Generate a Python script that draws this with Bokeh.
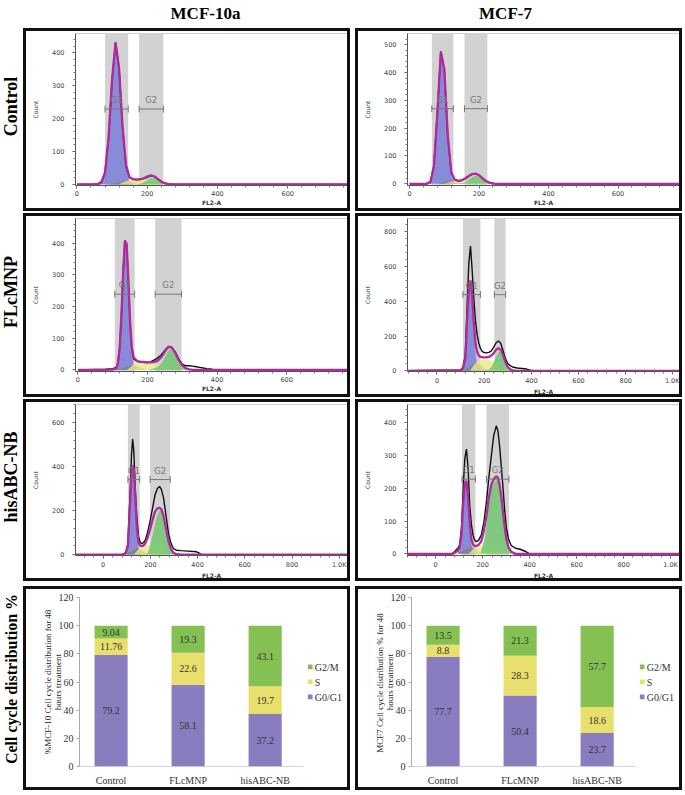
import math
from bokeh.plotting import figure
from bokeh.layouts import row, column
from bokeh.models import (FixedTicker, Legend, LegendItem, ColumnDataSource, LinearAxis,
                          Range1d, Spacer, BoxAnnotation)
from bokeh.core.properties import value
from bokeh.embed import file_html
from bokeh.resources import INLINE

# ---------------- histogram data (FL2-A vs Count) ----------------
# MCF-10a Control
A_x = [0, 40, 50, 60, 70, 80, 90, 100, 110, 120, 130, 140, 150, 160, 170, 180, 190, 200, 210, 220, 230, 240, 250, 260, 270, 280, 770]
A_black = [0, 0, 1, 3, 9, 38, 140, 315, 430, 352, 172, 52, 20, 16, 15, 16, 18, 22, 26, 24, 16, 8, 4, 2, 1, 0, 0]
A_fit = [0, 0, 0, 1, 6, 36, 140, 318, 432, 352, 172, 58, 22, 16, 15, 16, 19, 24, 28, 25, 17, 9, 4, 1, 0, 0, 0]
A_g1_x = [60, 70, 80, 90, 100, 110, 120, 130, 140, 150, 160]
A_g1_y = [1, 6, 36, 140, 316, 426, 346, 166, 48, 9, 0]
A_deb_x = [90, 110, 130, 140, 150, 170, 190]
A_deb_y = [0, 4, 10, 13, 10, 3, 0]
A_s_x = [120, 130, 140, 150, 170, 190, 210, 230, 240, 250]
A_s_y = [0, 6, 11, 13, 14, 14, 13, 9, 5, 0]
A_g2_x = [170, 180, 190, 200, 210, 220, 230, 240, 250, 260]
A_g2_y = [0, 2, 6, 13, 20, 19, 12, 5, 2, 0]
A_gates = [(80, 146), (177, 246)]

# MCF-7 Control
B_x = [0, 40, 50, 60, 70, 80, 90, 100, 110, 120, 130, 140, 150, 160, 170, 180, 190, 200, 210, 220, 230, 240, 250, 260, 777]
B_black = [0, 0, 1, 8, 66, 259, 476, 410, 170, 40, 14, 10, 12, 18, 27, 34, 36, 30, 19, 9, 4, 2, 0, 0, 0]
B_fit = [0, 0, 0, 6, 62, 255, 474, 412, 172, 42, 15, 11, 13, 19, 28, 35, 37, 31, 20, 10, 4, 1, 0, 0, 0]
B_g1_x = [50, 60, 70, 80, 90, 100, 110, 120, 130, 140]
B_g1_y = [0, 6, 62, 254, 470, 404, 162, 30, 3, 0]
B_deb_x = [80, 100, 115, 125, 140, 160]
B_deb_y = [0, 5, 14, 10, 4, 0]
B_s_x = [100, 110, 120, 140, 160, 180, 200, 215, 225]
B_s_y = [0, 4, 8, 9, 10, 9, 7, 3, 0]
B_g2_x = [140, 150, 160, 170, 180, 190, 200, 210, 220, 230, 240]
B_g2_y = [0, 2, 6, 15, 24, 29, 25, 15, 6, 2, 0]
B_gates = [(64, 126), (158, 224)]

# MCF-10a FLcMNP
C_x = [0, 80, 100, 110, 115, 120, 125, 130, 135, 140, 145, 150, 155, 160, 170, 180, 190, 200, 210, 220, 230, 240, 250, 260, 270, 280, 290, 300, 310, 320, 330, 340, 350, 360, 370, 380, 390, 400, 775]
C_black = [0, 2, 4, 8, 22, 70, 172, 309, 408, 395, 282, 147, 65, 35, 27, 25, 24, 23, 26, 32, 38, 48, 62, 74, 72, 56, 34, 18, 13, 13, 12, 10, 8, 6, 4, 3, 1, 0, 0]
C_fit = [0, 0, 1, 5, 21, 70, 172, 309, 408, 398, 285, 150, 70, 40, 28, 26, 25, 24, 24, 25, 30, 40, 58, 73, 70, 52, 30, 14, 5, 2, 0, 0, 0, 0, 0, 0, 0, 0, 0]
C_g1_x = [100, 110, 115, 120, 125, 130, 135, 140, 145, 150, 155, 160, 170]
C_g1_y = [0, 5, 21, 70, 172, 305, 404, 392, 280, 145, 57, 16, 0]
C_deb_x = [100, 130, 160, 175, 200]
C_deb_y = [0, 6, 16, 10, 0]
C_s_x = [140, 150, 160, 170, 180, 190, 200, 210, 220, 230, 240, 250, 260, 280, 300]
C_s_y = [0, 8, 18, 24, 25, 25, 24, 22, 20, 17, 14, 11, 8, 3, 0]
C_g2_x = [200, 210, 220, 230, 240, 250, 260, 265, 270, 280, 290, 300, 310, 320, 330]
C_g2_y = [0, 2, 5, 10, 20, 40, 62, 66, 62, 42, 22, 9, 3, 1, 0]
C_gates = [(106, 163), (222, 298)]

# MCF-7 FLcMNP
D_x = [-125, 100, 110, 120, 128, 135, 142, 149, 156, 163, 170, 177, 184, 191, 200, 210, 220, 230, 240, 250, 260, 270, 280, 290, 300, 310, 320, 340, 360, 380, 395, 410, 1028]
D_black = [0, 5, 20, 90, 390, 620, 717, 580, 420, 290, 210, 160, 130, 112, 105, 103, 106, 115, 135, 160, 172, 158, 115, 70, 42, 30, 22, 16, 13, 10, 4, 0, 0]
D_fit = [0, 2, 12, 70, 300, 470, 520, 440, 280, 160, 110, 88, 80, 78, 77, 78, 80, 88, 100, 120, 130, 122, 90, 50, 22, 8, 3, 0, 0, 0, 0, 0, 0]
D_g1_x = [100, 110, 120, 128, 135, 142, 149, 156, 163, 170, 180]
D_g1_y = [2, 12, 68, 290, 455, 505, 420, 250, 110, 35, 0]
D_deb_x = [110, 140, 165, 185, 215]
D_deb_y = [0, 25, 50, 30, 0]
D_s_x = [140, 160, 180, 200, 220, 240, 260, 280, 300, 320]
D_s_y = [0, 40, 62, 65, 63, 52, 28, 12, 3, 0]
D_g2_x = [200, 220, 230, 240, 250, 260, 265, 270, 280, 290, 300, 310]
D_g2_y = [0, 8, 20, 45, 80, 105, 112, 108, 80, 45, 18, 0]
D_gates = [(110, 184), (243, 291)]

# MCF-10a hisABC-NB
E_x = [-117, 80, 95, 105, 115, 120, 125, 130, 136, 143, 150, 157, 164, 171, 178, 188, 199, 210, 220, 230, 239, 247, 256, 266, 277, 288, 298, 310, 330, 360, 396, 405, 417, 1035]
E_black = [0, 0, 8, 50, 300, 450, 525, 470, 302, 170, 82, 55, 50, 55, 64, 100, 153, 215, 272, 300, 310, 295, 257, 180, 94, 50, 27, 20, 18, 16, 13, 8, 0, 0]
E_fit = [0, 0, 5, 40, 250, 360, 405, 390, 260, 120, 55, 40, 38, 42, 50, 75, 115, 160, 195, 210, 213, 205, 175, 120, 60, 25, 8, 2, 0, 0, 0, 0, 0, 0]
E_g1_x = [95, 105, 115, 120, 125, 130, 136, 143, 150, 160]
E_g1_y = [3, 35, 240, 350, 400, 385, 250, 100, 25, 0]
E_deb_x = [90, 120, 145, 165, 190]
E_deb_y = [0, 15, 32, 20, 0]
E_s_x = [130, 150, 170, 190, 210, 230, 250, 270, 290]
E_s_y = [0, 25, 38, 45, 45, 38, 25, 10, 0]
E_g2_x = [180, 190, 199, 210, 220, 230, 239, 247, 256, 266, 277, 288, 298, 310]
E_g2_y = [0, 10, 40, 90, 140, 180, 200, 205, 185, 130, 65, 25, 8, 0]
E_gates = [(105, 155), (199, 284)]

# MCF-7 hisABC-NB
F_x = [-120, 70, 81, 95, 102, 110, 117, 124, 131, 138, 145, 152, 159, 166, 173, 183, 194, 205, 216, 226, 237, 247, 258, 265, 272, 280, 287, 294, 301, 310, 322, 340, 360, 380, 400, 1038]
F_black = [0, 0, 7, 18, 27, 80, 198, 290, 319, 260, 147, 90, 57, 42, 37, 42, 57, 95, 158, 230, 299, 360, 390, 375, 329, 260, 198, 130, 78, 45, 25, 17, 14, 8, 0, 0]
F_fit = [0, 0, 3, 10, 18, 60, 150, 215, 222, 170, 90, 45, 28, 24, 24, 28, 38, 70, 115, 170, 210, 228, 236, 232, 210, 170, 125, 80, 45, 20, 6, 0, 0, 0, 0, 0]
F_g1_x = [95, 102, 110, 117, 124, 131, 138, 145, 152, 160]
F_g1_y = [5, 15, 55, 145, 210, 218, 165, 85, 30, 0]
F_deb_x = [90, 120, 150, 170, 195]
F_deb_y = [0, 12, 22, 15, 0]
F_s_x = [140, 160, 180, 200, 220, 240, 260, 280, 300, 320]
F_s_y = [0, 15, 22, 27, 30, 28, 22, 14, 5, 0]
F_g2_x = [190, 205, 216, 226, 237, 247, 258, 265, 272, 280, 287, 294, 301, 310, 322]
F_g2_y = [0, 40, 95, 150, 195, 215, 225, 222, 200, 160, 115, 75, 40, 15, 0]
F_gates = [(112, 169), (216, 312)]

gate_names = ["G1", "G2"]

# ---------------- bar chart data ----------------
categories = ["Control", "FLcMNP", "hisABC-NB"]
mcf10_g0g1 = [79.2, 58.1, 37.2]
mcf10_s = [11.76, 22.6, 19.7]
mcf10_g2m = [9.04, 19.3, 43.1]
mcf7_g0g1 = [77.7, 50.4, 23.7]
mcf7_s = [8.8, 28.3, 18.6]
mcf7_g2m = [13.5, 21.3, 57.7]
bar_ticks = [0, 20, 40, 60, 80, 100, 120]

row_labels = ["Control", "FLcMNP", "hisABC-NB", "Cell cycle distribution %"]
col_titles = ["MCF-10a", "MCF-7"]
mcf10_ylabel = ["%MCF-10 Cell cycle distribution for 48", "hours treatment"]
mcf7_ylabel = ["MCF7 Cell cycle distribution  % for 48", "hours treatment"]

# ---------------- styling ----------------
SERIF = "Liberation Serif"
SANS = "DejaVu Sans"
BORDER = {"border": "3px solid #111"}
C_BLUE, C_GRAY, C_YEL, C_GRN = "#7b7fd6", "#808080", "#e8e88a", "#6cc66c"
C_MAG, C_BLK, C_GATE = "#b02a9c", "#111111", "#d2d2d2"
BAR_PURPLE, BAR_YEL, BAR_GRN = "#8a7dbf", "#e9df6d", "#84c152"

PW = 327  # outer panel width (border drawn inside)


def hist_panel(x, black, fit, g1, deb, s, g2, gates, xr, yr, xticks, xstep_minor,
               ystep, ystep_minor, h):
    p = figure(width=PW, height=h, x_range=Range1d(*xr), y_range=Range1d(*yr),
               output_backend="svg", toolbar_location=None,
               min_border_left=49, min_border_right=6, min_border_top=2,
               min_border_bottom=29)
    p.styles = BORDER
    p.grid.visible = False
    p.outline_line_color = "#cfcfcf"
    for lo, hi in gates:
        p.add_layout(BoxAnnotation(left=lo, right=hi, fill_color=C_GATE, fill_alpha=1.0,
                                   line_color=None, level="underlay"))
    p.varea(x=g1[0], y1=0, y2=g1[1], fill_color=C_BLUE, fill_alpha=0.85)
    p.varea(x=deb[0], y1=0, y2=deb[1], fill_color=C_GRAY, fill_alpha=0.8)
    p.varea(x=s[0], y1=0, y2=s[1], fill_color=C_YEL, fill_alpha=0.8)
    p.varea(x=g2[0], y1=0, y2=g2[1], fill_color=C_GRN, fill_alpha=0.8)
    p.line(x, black, line_color=C_BLK, line_width=1.4)
    p.line(x, fit, line_color=C_MAG, line_width=2.3)
    by = yr[1] * 0.5
    for (lo, hi), name in zip(gates, gate_names):
        p.segment(x0=[lo], y0=[by], x1=[hi], y1=[by], line_color="#777", line_width=1)
        p.scatter(x=[lo, hi], y=[by, by], marker="dash", angle=math.pi / 2, size=7,
                  line_color="#777", line_width=1)
        p.text(x=[(lo + hi) / 2], y=[by], text=[name], text_align="center",
               text_baseline="bottom", y_offset=-4, text_color="#777",
               text_font=value(SANS), text_font_size="8.5px")
    ymax_tick = int(yr[1] // ystep) * ystep
    p.yaxis.ticker = FixedTicker(ticks=list(range(0, ymax_tick + 1, ystep)),
                                 minor_ticks=list(range(0, int(yr[1]), ystep_minor)))
    p.xaxis.ticker = FixedTicker(ticks=xticks,
                                 minor_ticks=list(range(int(xr[0] // xstep_minor) * xstep_minor,
                                                        int(xr[1]), xstep_minor)))
    p.xaxis.major_label_overrides = {1000: "1.0K"}
    for ax in (p.xaxis[0], p.yaxis[0]):
        ax.axis_line_color = "#555"
        ax.major_tick_line_color = "#555"
        ax.minor_tick_line_color = "#777"
        ax.major_tick_in = 0
        ax.major_tick_out = 3
        ax.minor_tick_in = 0
        ax.minor_tick_out = 2
        ax.major_label_text_font = SANS
        ax.major_label_text_font_size = "6.5px"
        ax.major_label_text_color = "#444"
        ax.axis_label_text_font = SANS
        ax.axis_label_text_font_style = "bold"
        ax.axis_label_text_color = "#333"
    p.xaxis.major_label_standoff = 2
    p.xaxis.axis_label_standoff = 0
    p.yaxis.major_label_standoff = 8
    p.yaxis.axis_label_standoff = 10
    p.xaxis.axis_label = "FL2-A"
    p.xaxis.axis_label_text_font_size = "6px"
    p.yaxis.axis_label = "Count"
    p.yaxis.axis_label_text_font_size = "6px"
    p.yaxis.axis_label_text_font_style = "normal"
    return p


def bar_panel(g0, s, g2, ylabel, h):
    pos = list(range(len(categories)))
    src = ColumnDataSource(dict(pos=pos, g0=g0, s=s, g2=g2,
                                m0=[v / 2 for v in g0],
                                m1=[a + b / 2 for a, b in zip(g0, s)],
                                m2=[a + b + c / 2 for a, b, c in zip(g0, s, g2)],
                                t0=[str(v) for v in g0], t1=[str(v) for v in s],
                                t2=[str(v) for v in g2]))
    p = figure(width=PW, height=h, x_range=Range1d(-0.41, 3.03),
               y_range=Range1d(0, 120), output_backend="svg", toolbar_location=None,
               min_border_left=53, min_border_right=9, min_border_top=8,
               min_border_bottom=27)
    p.styles = BORDER
    p.grid.visible = False
    p.outline_line_color = None
    rs = p.vbar_stack(["g0", "s", "g2"], x="pos", width=0.43, source=src,
                      color=[BAR_PURPLE, BAR_YEL, BAR_GRN], line_color=None)
    for m, t in (("m0", "t0"), ("m1", "t1"), ("m2", "t2")):
        p.text(x="pos", y=m, text=t, source=src, text_align="center",
               text_baseline="middle", text_font=value(SERIF), text_font_size="10px",
               text_color="#333")
    # baseline under the category area
    p.segment(x0=[-0.41], x1=[len(categories) - 0.5], y0=[0], y1=[0],
              line_color="#aaa", line_width=1)
    leg = Legend(items=[LegendItem(label="G2/M", renderers=[rs[2]]),
                        LegendItem(label="S", renderers=[rs[1]]),
                        LegendItem(label="G0/G1", renderers=[rs[0]])],
                 location="center_right", border_line_color=None, background_fill_alpha=0,
                 glyph_width=6, glyph_height=6, label_standoff=2, spacing=4,
                 padding=2, margin=2, label_text_font=SERIF, label_text_font_size="10px",
                 label_text_color="#333")
    p.add_layout(leg)
    p.yaxis.ticker = FixedTicker(ticks=bar_ticks)
    p.yaxis.minor_tick_line_color = None
    p.yaxis.major_tick_in = 0
    p.yaxis.major_tick_out = 3
    p.yaxis.major_tick_line_color = "#aaa"
    p.yaxis.axis_line_color = "#aaa"
    p.yaxis.major_label_standoff = 3
    p.xaxis.ticker = FixedTicker(ticks=pos)
    p.xaxis.major_label_overrides = {i: c for i, c in zip(pos, categories)}
    p.xaxis.major_tick_line_color = None
    p.xaxis.minor_tick_line_color = None
    p.xaxis.axis_line_color = None
    for ax in (p.xaxis[0], p.yaxis[0]):
        ax.major_label_text_font = SERIF
        ax.major_label_text_font_size = "10px"
        ax.major_label_text_color = "#333"
    p.yaxis.axis_label = ylabel[1]
    p.yaxis.axis_label_text_font = SERIF
    p.yaxis.axis_label_text_font_size = "9px"
    p.yaxis.axis_label_text_font_style = "normal"
    p.yaxis.axis_label_text_color = "#222"
    p.yaxis.axis_label_standoff = -7
    # first line of the two-line y label, as an outer label-only axis
    outer = LinearAxis(axis_label=ylabel[0], ticker=FixedTicker(ticks=[]),
                       axis_line_color=None, major_tick_line_color=None,
                       minor_tick_line_color=None, axis_label_standoff=-3,
                       axis_label_text_font=SERIF, axis_label_text_font_size="9px",
                       axis_label_text_font_style="normal", axis_label_text_color="#222")
    p.add_layout(outer, "left")
    p.xaxis.major_label_standoff = 2
    return p


def label_fig(txt, h, size="18px", w=21):
    p = figure(width=w, height=h, x_range=Range1d(0, 1), y_range=Range1d(0, 1),
               output_backend="svg", toolbar_location=None, min_border=0)
    p.axis.visible = False
    p.grid.visible = False
    p.outline_line_color = None
    p.text(x=[0.5], y=[0.5], text=[txt], angle=math.pi / 2, text_align="center",
           text_baseline="middle", text_font=value(SERIF), text_font_style="bold",
           text_font_size=size, text_color="#000")
    return p


H1, H2, H3, H4 = 183, 184, 182, 204

pA = hist_panel(A_x, A_black, A_fit, (A_g1_x, A_g1_y), (A_deb_x, A_deb_y), (A_s_x, A_s_y),
                (A_g2_x, A_g2_y), A_gates, (-4, 770), (-3, 458), [0, 200, 400, 600], 40,
                100, 20, H1)
pB = hist_panel(B_x, B_black, B_fit, (B_g1_x, B_g1_y), (B_deb_x, B_deb_y), (B_s_x, B_s_y),
                (B_g2_x, B_g2_y), B_gates, (-6, 777), (-6, 540), [0, 200, 400, 600], 40,
                100, 20, H1)
pC = hist_panel(C_x, C_black, C_fit, (C_g1_x, C_g1_y), (C_deb_x, C_deb_y), (C_s_x, C_s_y),
                (C_g2_x, C_g2_y), C_gates, (-7, 775), (-5, 478), [0, 200, 400, 600], 40,
                100, 20, H2)
pD = hist_panel(D_x, D_black, D_fit, (D_g1_x, D_g1_y), (D_deb_x, D_deb_y), (D_s_x, D_s_y),
                (D_g2_x, D_g2_y), D_gates, (-125, 1028), (-4, 876),
                [0, 200, 400, 600, 800, 1000], 40, 200, 40, H2)
pE = hist_panel(E_x, E_black, E_fit, (E_g1_x, E_g1_y), (E_deb_x, E_deb_y), (E_s_x, E_s_y),
                (E_g2_x, E_g2_y), E_gates, (-117, 1035), (-4, 682),
                [0, 200, 400, 600, 800, 1000], 40, 200, 40, H3)
pF = hist_panel(F_x, F_black, F_fit, (F_g1_x, F_g1_y), (F_deb_x, F_deb_y), (F_s_x, F_s_y),
                (F_g2_x, F_g2_y), F_gates, (-120, 1038), (-5, 455),
                [0, 200, 400, 600, 800, 1000], 40, 100, 20, H3)

pG = bar_panel(mcf10_g0g1, mcf10_s, mcf10_g2m, mcf10_ylabel, H4)
pH = bar_panel(mcf7_g0g1, mcf7_s, mcf7_g2m, mcf7_ylabel, H4)

# column titles
tt = figure(width=682, height=26, x_range=Range1d(0, 682), y_range=Range1d(0, 26),
            output_backend="svg", toolbar_location=None, min_border=0)
tt.axis.visible = False
tt.grid.visible = False
tt.outline_line_color = None
tt.text(x=[205, 505], y=[13, 13], text=col_titles, text_align="center",
        text_baseline="middle", text_font=value(SERIF), text_font_style="bold",
        text_font_size="17px", text_color="#000")

r1 = row(label_fig(row_labels[0], H1), pA, Spacer(width=1), pB, spacing=2)
r2 = row(label_fig(row_labels[1], H2), pC, Spacer(width=1), pD, spacing=2)
r3 = row(label_fig(row_labels[2], H3), pE, Spacer(width=1), pF, spacing=2)
r4 = row(label_fig(row_labels[3], H4, size="16px"), pG, Spacer(width=1), pH, spacing=2)

layout = column(tt, r1, r2, r3, Spacer(height=1), r4, spacing=2)

open("out.html", "w").write(file_html(layout, INLINE))
